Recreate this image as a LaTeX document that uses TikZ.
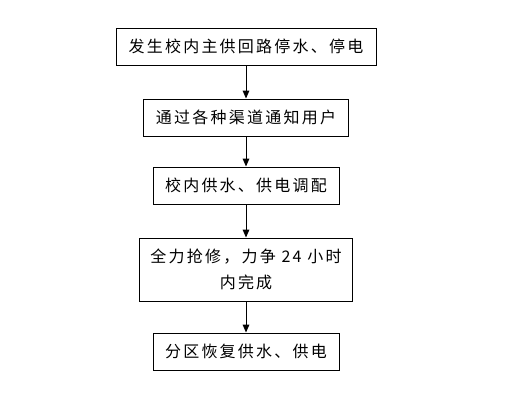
\documentclass[tikz,border=0pt]{standalone}
\usepackage{fontspec}
\newfontfamily\cjk[LetterSpace=14]{Noto Sans CJK SC}
\usetikzlibrary{arrows.meta, positioning}

\begin{document}
\begin{tikzpicture}[x=0.75pt, y=-0.75pt]
                \tikzstyle{stepbox} = [rectangle, draw=black, line width=0.75pt, inner sep=0pt, minimum height=27.75pt, font=\cjk\fontsize{12}{20}\selectfont, align=center]
                \tikzstyle{flow} = [draw, line width=0.75pt, -{Triangle[length=6pt, width=5pt]}]
                
                \useasboundingbox (0,0) rectangle (516,408);
                
                \node[stepbox, minimum width=195pt] (s1) at (246,46.5) {发生校内主供回路停水、停电};
                \node[stepbox, minimum width=153.75pt] (s2) at (246,117.5) {通过各种渠道通知用户};
                \node[stepbox, minimum width=139.5pt] (s3) at (246,185.5) {校内供水、供电调配};
                \node[stepbox, minimum width=159.75pt, minimum height=47.25pt] (s4) at (246,269.5) {全力抢修，力争 24 小时\\内完成};
                \node[stepbox, minimum width=139.5pt] (s5) at (246,351.5) {分区恢复供水、供电};
                
                \draw[flow] (s1) -- (s2);
                \draw[flow] (s2) -- (s3);
                \draw[flow] (s3) -- (s4);
                \draw[flow] (s4) -- (s5);
            \end{tikzpicture}
\end{document}
